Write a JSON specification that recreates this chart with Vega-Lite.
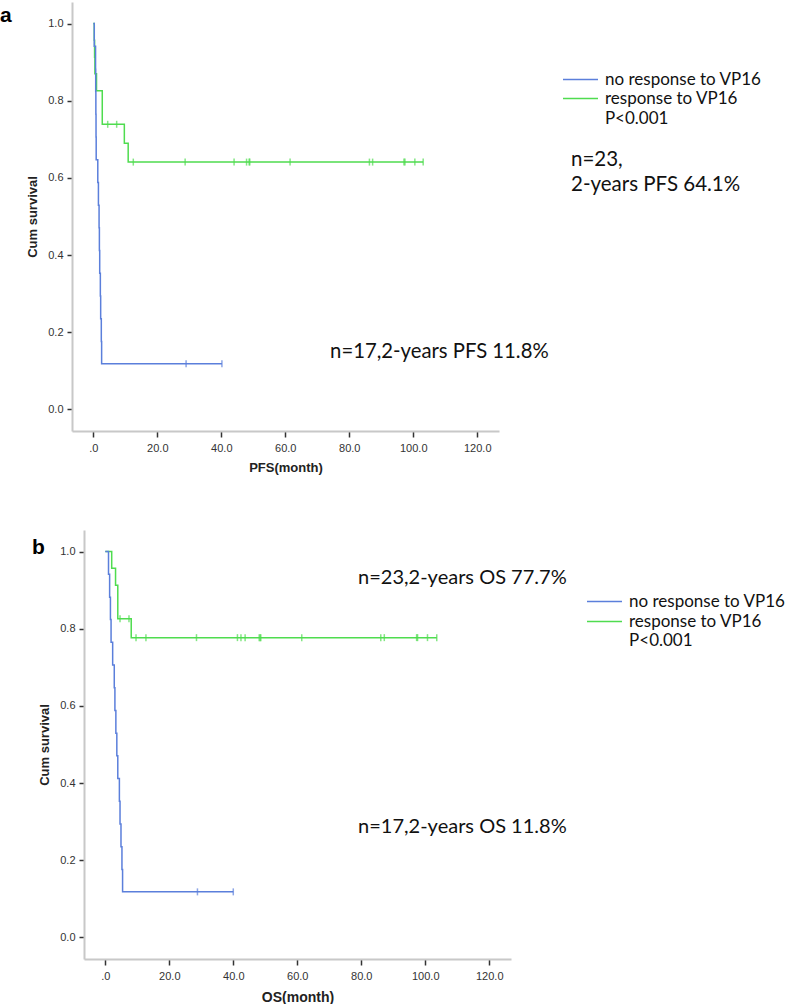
{
  "$schema": "https://vega.github.io/schema/vega-lite/v6.json",
  "padding": {"left": 0, "top": 2, "right": 0, "bottom": 0},
  "background": "white",
  "spacing": 56,
  "resolve": {"scale": {"color": "independent"}, "legend": {"color": "independent"}},
  "config": {
    "view": {"stroke": null},
    "axis": {"grid": false, "domainColor": "#c8c8c8", "domainWidth": 2, "tickColor": "#333333", "tickWidth": 1.5, "tickSize": 5, "labelFont": "Liberation Sans", "labelFontSize": 11, "labelColor": "#333333", "titleFont": "Liberation Sans", "titleFontSize": 13, "titleFontWeight": "bold", "titleColor": "#222222"}
  },
  "datasets": {
    "km": [
      {"panel": "PFS", "grp": "response to VP16", "t": 0, "s": 1, "cens": 0},
      {"panel": "PFS", "grp": "response to VP16", "t": 0.3, "s": 0.957, "cens": 0},
      {"panel": "PFS", "grp": "response to VP16", "t": 0.4, "s": 0.913, "cens": 0},
      {"panel": "PFS", "grp": "response to VP16", "t": 0.5, "s": 0.870, "cens": 0},
      {"panel": "PFS", "grp": "response to VP16", "t": 1.0, "s": 0.826, "cens": 0},
      {"panel": "PFS", "grp": "response to VP16", "t": 2.8, "s": 0.739, "cens": 0},
      {"panel": "PFS", "grp": "response to VP16", "t": 4.5, "s": 0.739, "cens": 1},
      {"panel": "PFS", "grp": "response to VP16", "t": 7.3, "s": 0.739, "cens": 1},
      {"panel": "PFS", "grp": "response to VP16", "t": 9.7, "s": 0.690, "cens": 0},
      {"panel": "PFS", "grp": "response to VP16", "t": 10.9, "s": 0.641, "cens": 0},
      {"panel": "PFS", "grp": "response to VP16", "t": 12.5, "s": 0.641, "cens": 1},
      {"panel": "PFS", "grp": "response to VP16", "t": 28.7, "s": 0.641, "cens": 1},
      {"panel": "PFS", "grp": "response to VP16", "t": 44.0, "s": 0.641, "cens": 1},
      {"panel": "PFS", "grp": "response to VP16", "t": 47.9, "s": 0.641, "cens": 1},
      {"panel": "PFS", "grp": "response to VP16", "t": 48.7, "s": 0.641, "cens": 1},
      {"panel": "PFS", "grp": "response to VP16", "t": 48.9, "s": 0.641, "cens": 1},
      {"panel": "PFS", "grp": "response to VP16", "t": 61.5, "s": 0.641, "cens": 1},
      {"panel": "PFS", "grp": "response to VP16", "t": 86.3, "s": 0.641, "cens": 1},
      {"panel": "PFS", "grp": "response to VP16", "t": 87.3, "s": 0.641, "cens": 1},
      {"panel": "PFS", "grp": "response to VP16", "t": 97.1, "s": 0.641, "cens": 1},
      {"panel": "PFS", "grp": "response to VP16", "t": 97.4, "s": 0.641, "cens": 1},
      {"panel": "PFS", "grp": "response to VP16", "t": 100.5, "s": 0.641, "cens": 1},
      {"panel": "PFS", "grp": "response to VP16", "t": 103.1, "s": 0.641, "cens": 1},
      {"panel": "PFS", "grp": "no response to VP16", "t": 0, "s": 1, "cens": 0},
      {"panel": "PFS", "grp": "no response to VP16", "t": 0.3, "s": 0.941, "cens": 0},
      {"panel": "PFS", "grp": "no response to VP16", "t": 0.7, "s": 0.882, "cens": 0},
      {"panel": "PFS", "grp": "no response to VP16", "t": 0.75, "s": 0.824, "cens": 0},
      {"panel": "PFS", "grp": "no response to VP16", "t": 0.8, "s": 0.765, "cens": 0},
      {"panel": "PFS", "grp": "no response to VP16", "t": 0.85, "s": 0.706, "cens": 0},
      {"panel": "PFS", "grp": "no response to VP16", "t": 0.9, "s": 0.647, "cens": 0},
      {"panel": "PFS", "grp": "no response to VP16", "t": 1.4, "s": 0.588, "cens": 0},
      {"panel": "PFS", "grp": "no response to VP16", "t": 1.6, "s": 0.529, "cens": 0},
      {"panel": "PFS", "grp": "no response to VP16", "t": 1.8, "s": 0.471, "cens": 0},
      {"panel": "PFS", "grp": "no response to VP16", "t": 1.9, "s": 0.412, "cens": 0},
      {"panel": "PFS", "grp": "no response to VP16", "t": 2.0, "s": 0.353, "cens": 0},
      {"panel": "PFS", "grp": "no response to VP16", "t": 2.2, "s": 0.294, "cens": 0},
      {"panel": "PFS", "grp": "no response to VP16", "t": 2.3, "s": 0.235, "cens": 0},
      {"panel": "PFS", "grp": "no response to VP16", "t": 2.5, "s": 0.176, "cens": 0},
      {"panel": "PFS", "grp": "no response to VP16", "t": 2.6, "s": 0.118, "cens": 0},
      {"panel": "PFS", "grp": "no response to VP16", "t": 29.0, "s": 0.118, "cens": 1},
      {"panel": "PFS", "grp": "no response to VP16", "t": 40.2, "s": 0.118, "cens": 1},
      {"panel": "OS", "grp": "response to VP16", "t": 0, "s": 1, "cens": 0},
      {"panel": "OS", "grp": "response to VP16", "t": 2.0, "s": 0.957, "cens": 0},
      {"panel": "OS", "grp": "response to VP16", "t": 3.2, "s": 0.913, "cens": 0},
      {"panel": "OS", "grp": "response to VP16", "t": 3.9, "s": 0.826, "cens": 0},
      {"panel": "OS", "grp": "response to VP16", "t": 4.6, "s": 0.826, "cens": 1},
      {"panel": "OS", "grp": "response to VP16", "t": 7.4, "s": 0.826, "cens": 1},
      {"panel": "OS", "grp": "response to VP16", "t": 8.1, "s": 0.777, "cens": 0},
      {"panel": "OS", "grp": "response to VP16", "t": 9.6, "s": 0.777, "cens": 1},
      {"panel": "OS", "grp": "response to VP16", "t": 12.7, "s": 0.777, "cens": 1},
      {"panel": "OS", "grp": "response to VP16", "t": 28.5, "s": 0.777, "cens": 1},
      {"panel": "OS", "grp": "response to VP16", "t": 41.3, "s": 0.777, "cens": 1},
      {"panel": "OS", "grp": "response to VP16", "t": 42.4, "s": 0.777, "cens": 1},
      {"panel": "OS", "grp": "response to VP16", "t": 43.7, "s": 0.777, "cens": 1},
      {"panel": "OS", "grp": "response to VP16", "t": 48.1, "s": 0.777, "cens": 1},
      {"panel": "OS", "grp": "response to VP16", "t": 48.4, "s": 0.777, "cens": 1},
      {"panel": "OS", "grp": "response to VP16", "t": 48.6, "s": 0.777, "cens": 1},
      {"panel": "OS", "grp": "response to VP16", "t": 61.4, "s": 0.777, "cens": 1},
      {"panel": "OS", "grp": "response to VP16", "t": 86.1, "s": 0.777, "cens": 1},
      {"panel": "OS", "grp": "response to VP16", "t": 87.2, "s": 0.777, "cens": 1},
      {"panel": "OS", "grp": "response to VP16", "t": 97.3, "s": 0.777, "cens": 1},
      {"panel": "OS", "grp": "response to VP16", "t": 97.6, "s": 0.777, "cens": 1},
      {"panel": "OS", "grp": "response to VP16", "t": 100.7, "s": 0.777, "cens": 1},
      {"panel": "OS", "grp": "response to VP16", "t": 103.6, "s": 0.777, "cens": 1},
      {"panel": "OS", "grp": "no response to VP16", "t": 0, "s": 1, "cens": 0},
      {"panel": "OS", "grp": "no response to VP16", "t": 1.0, "s": 0.941, "cens": 0},
      {"panel": "OS", "grp": "no response to VP16", "t": 1.35, "s": 0.882, "cens": 0},
      {"panel": "OS", "grp": "no response to VP16", "t": 1.6, "s": 0.824, "cens": 0},
      {"panel": "OS", "grp": "no response to VP16", "t": 1.8, "s": 0.765, "cens": 0},
      {"panel": "OS", "grp": "no response to VP16", "t": 2.3, "s": 0.706, "cens": 0},
      {"panel": "OS", "grp": "no response to VP16", "t": 2.8, "s": 0.647, "cens": 0},
      {"panel": "OS", "grp": "no response to VP16", "t": 3.0, "s": 0.588, "cens": 0},
      {"panel": "OS", "grp": "no response to VP16", "t": 3.3, "s": 0.529, "cens": 0},
      {"panel": "OS", "grp": "no response to VP16", "t": 3.6, "s": 0.471, "cens": 0},
      {"panel": "OS", "grp": "no response to VP16", "t": 3.9, "s": 0.412, "cens": 0},
      {"panel": "OS", "grp": "no response to VP16", "t": 4.4, "s": 0.353, "cens": 0},
      {"panel": "OS", "grp": "no response to VP16", "t": 4.6, "s": 0.294, "cens": 0},
      {"panel": "OS", "grp": "no response to VP16", "t": 4.9, "s": 0.235, "cens": 0},
      {"panel": "OS", "grp": "no response to VP16", "t": 5.2, "s": 0.176, "cens": 0},
      {"panel": "OS", "grp": "no response to VP16", "t": 5.4, "s": 0.118, "cens": 0},
      {"panel": "OS", "grp": "no response to VP16", "t": 28.8, "s": 0.118, "cens": 1},
      {"panel": "OS", "grp": "no response to VP16", "t": 40.0, "s": 0.118, "cens": 1}
    ]
  },
  "vconcat": [
    {
      "width": 427,
      "height": 429,
      "layer": [
        {
          "data": {"name": "km"},
          "transform": [{"filter": "datum.panel == 'PFS'"}],
          "mark": {"type": "line", "interpolate": "step-after", "strokeWidth": 1.5},
          "encoding": {
            "x": {"field": "t", "type": "quantitative", "scale": {"domain": [-6.66, 126.8], "nice": false, "zero": false},
                  "axis": {"title": "PFS(month)", "values": [0, 20, 40, 60, 80, 100, 120], "labelExpr": "datum.value == 0 ? '.0' : format(datum.value, '.1f')", "tickSize": 6, "labelPadding": 5, "titlePadding": 8, "labelFlush": false, "labelOverlap": false}},
            "y": {"field": "s", "type": "quantitative", "scale": {"domain": [-0.056, 1.056], "nice": false, "zero": false},
                  "axis": {"title": "Cum survival", "values": [0, 0.2, 0.4, 0.6, 0.8, 1.0], "format": ".1f", "labelPadding": 4, "titlePadding": 8}},
            "color": {"field": "grp", "type": "nominal",
                      "scale": {"domain": ["no response to VP16", "response to VP16"], "range": ["#5b7fdb", "#4fdc4f"]},
                      "legend": {"orient": "none", "legendX": 500, "legendY": 69, "title": null, "symbolType": "M-3.5,0H3.5", "symbolSize": 100, "symbolStrokeWidth": 1.5, "labelFont": "Lato", "labelFontSize": 17, "labelLimit": 0, "labelColor": "#111111", "labelOffset": 16, "rowPadding": 1, "padding": 0}}
          }
        },
        {
          "data": {"name": "km"},
          "transform": [{"filter": "datum.panel == 'PFS' && datum.cens == 1"}],
          "mark": {"type": "tick", "orient": "vertical", "size": 7, "thickness": 1.5},
          "encoding": {
            "x": {"field": "t", "type": "quantitative"},
            "y": {"field": "s", "type": "quantitative"},
            "color": {"field": "grp", "type": "nominal", "legend": null}
          }
        },
        {
          "data": {"values": [{}]},
          "mark": {"type": "text", "text": "a", "align": "left", "baseline": "alphabetic", "font": "Liberation Sans", "fontSize": 21, "fontWeight": "bold", "color": "#000000"},
          "encoding": {"x": {"datum": -29.16}, "y": {"datum": 1.0036}}
        },
        {
          "data": {"values": [{}]},
          "mark": {"type": "text", "text": "n=23,", "align": "left", "baseline": "middle", "font": "Lato", "fontSize": 20.5, "color": "#111111"},
          "encoding": {"x": {"datum": 149.3}, "y": {"datum": 0.646}}
        },
        {
          "data": {"values": [{}]},
          "mark": {"type": "text", "text": "2-years PFS 64.1%", "align": "left", "baseline": "middle", "font": "Lato", "fontSize": 20.5, "color": "#111111"},
          "encoding": {"x": {"datum": 149.3}, "y": {"datum": 0.581}}
        },
        {
          "data": {"values": [{}]},
          "mark": {"type": "text", "text": "n=17,2-years PFS 11.8%", "align": "left", "baseline": "middle", "font": "Lato", "fontSize": 20.3, "color": "#111111"},
          "encoding": {"x": {"datum": 74.0}, "y": {"datum": 0.149}}
        },
        {
          "data": {"values": [{}]},
          "mark": {"type": "text", "text": "P<0.001", "align": "left", "baseline": "middle", "font": "Lato", "fontSize": 17, "color": "#111111"},
          "encoding": {"x": {"datum": 159.9}, "y": {"datum": 0.753}}
        }
      ]
    },
    {
      "width": 439,
      "height": 429,
      "layer": [
        {
          "data": {"name": "km"},
          "transform": [{"filter": "datum.panel == 'OS'"}],
          "mark": {"type": "line", "interpolate": "step-after", "strokeWidth": 1.5},
          "encoding": {
            "x": {"field": "t", "type": "quantitative", "scale": {"domain": [-6.66, 126.8], "range": [12, 439], "nice": false, "zero": false},
                  "axis": {"title": "OS(month)", "titleFontSize": 14, "values": [0, 20, 40, 60, 80, 100, 120], "labelExpr": "datum.value == 0 ? '.0' : format(datum.value, '.1f')", "tickSize": 6, "labelPadding": 5, "titlePadding": 9, "labelFlush": false, "labelOverlap": false}},
            "y": {"field": "s", "type": "quantitative", "scale": {"domain": [-0.056, 1.056], "nice": false, "zero": false},
                  "axis": {"title": "Cum survival", "offset": -12, "values": [0, 0.2, 0.4, 0.6, 0.8, 1.0], "format": ".1f", "labelPadding": 4, "titlePadding": 8}},
            "color": {"field": "grp", "type": "nominal",
                      "scale": {"domain": ["no response to VP16", "response to VP16"], "range": ["#5b7fdb", "#4fdc4f"]},
                      "legend": {"orient": "none", "legendX": 524, "legendY": 63, "title": null, "symbolType": "M-3.5,0H3.5", "symbolSize": 100, "symbolStrokeWidth": 1.5, "labelFont": "Lato", "labelFontSize": 17, "labelLimit": 0, "labelColor": "#111111", "labelOffset": 16, "rowPadding": 2, "padding": 0}}
          }
        },
        {
          "data": {"name": "km"},
          "transform": [{"filter": "datum.panel == 'OS' && datum.cens == 1"}],
          "mark": {"type": "tick", "orient": "vertical", "size": 7, "thickness": 1.5},
          "encoding": {
            "x": {"field": "t", "type": "quantitative"},
            "y": {"field": "s", "type": "quantitative"},
            "color": {"field": "grp", "type": "nominal", "legend": null}
          }
        },
        {
          "data": {"values": [{}]},
          "mark": {"type": "text", "text": "b", "align": "left", "baseline": "alphabetic", "font": "Liberation Sans", "fontSize": 21, "fontWeight": "bold", "color": "#000000"},
          "encoding": {"x": {"datum": -22.9}, "y": {"datum": 0.993}}
        },
        {
          "data": {"values": [{}]},
          "mark": {"type": "text", "text": "n=23,2-years OS 77.7%", "align": "left", "baseline": "middle", "font": "Lato", "fontSize": 20, "color": "#111111"},
          "encoding": {"x": {"datum": 79.0}, "y": {"datum": 0.931}}
        },
        {
          "data": {"values": [{}]},
          "mark": {"type": "text", "text": "n=17,2-years OS 11.8%", "align": "left", "baseline": "middle", "font": "Lato", "fontSize": 20, "color": "#111111"},
          "encoding": {"x": {"datum": 79.0}, "y": {"datum": 0.286}}
        },
        {
          "data": {"values": [{}]},
          "mark": {"type": "text", "text": "P<0.001", "align": "left", "baseline": "middle", "font": "Lato", "fontSize": 17, "color": "#111111"},
          "encoding": {"x": {"datum": 163.7}, "y": {"datum": 0.768}}
        }
      ]
    }
  ]
}
